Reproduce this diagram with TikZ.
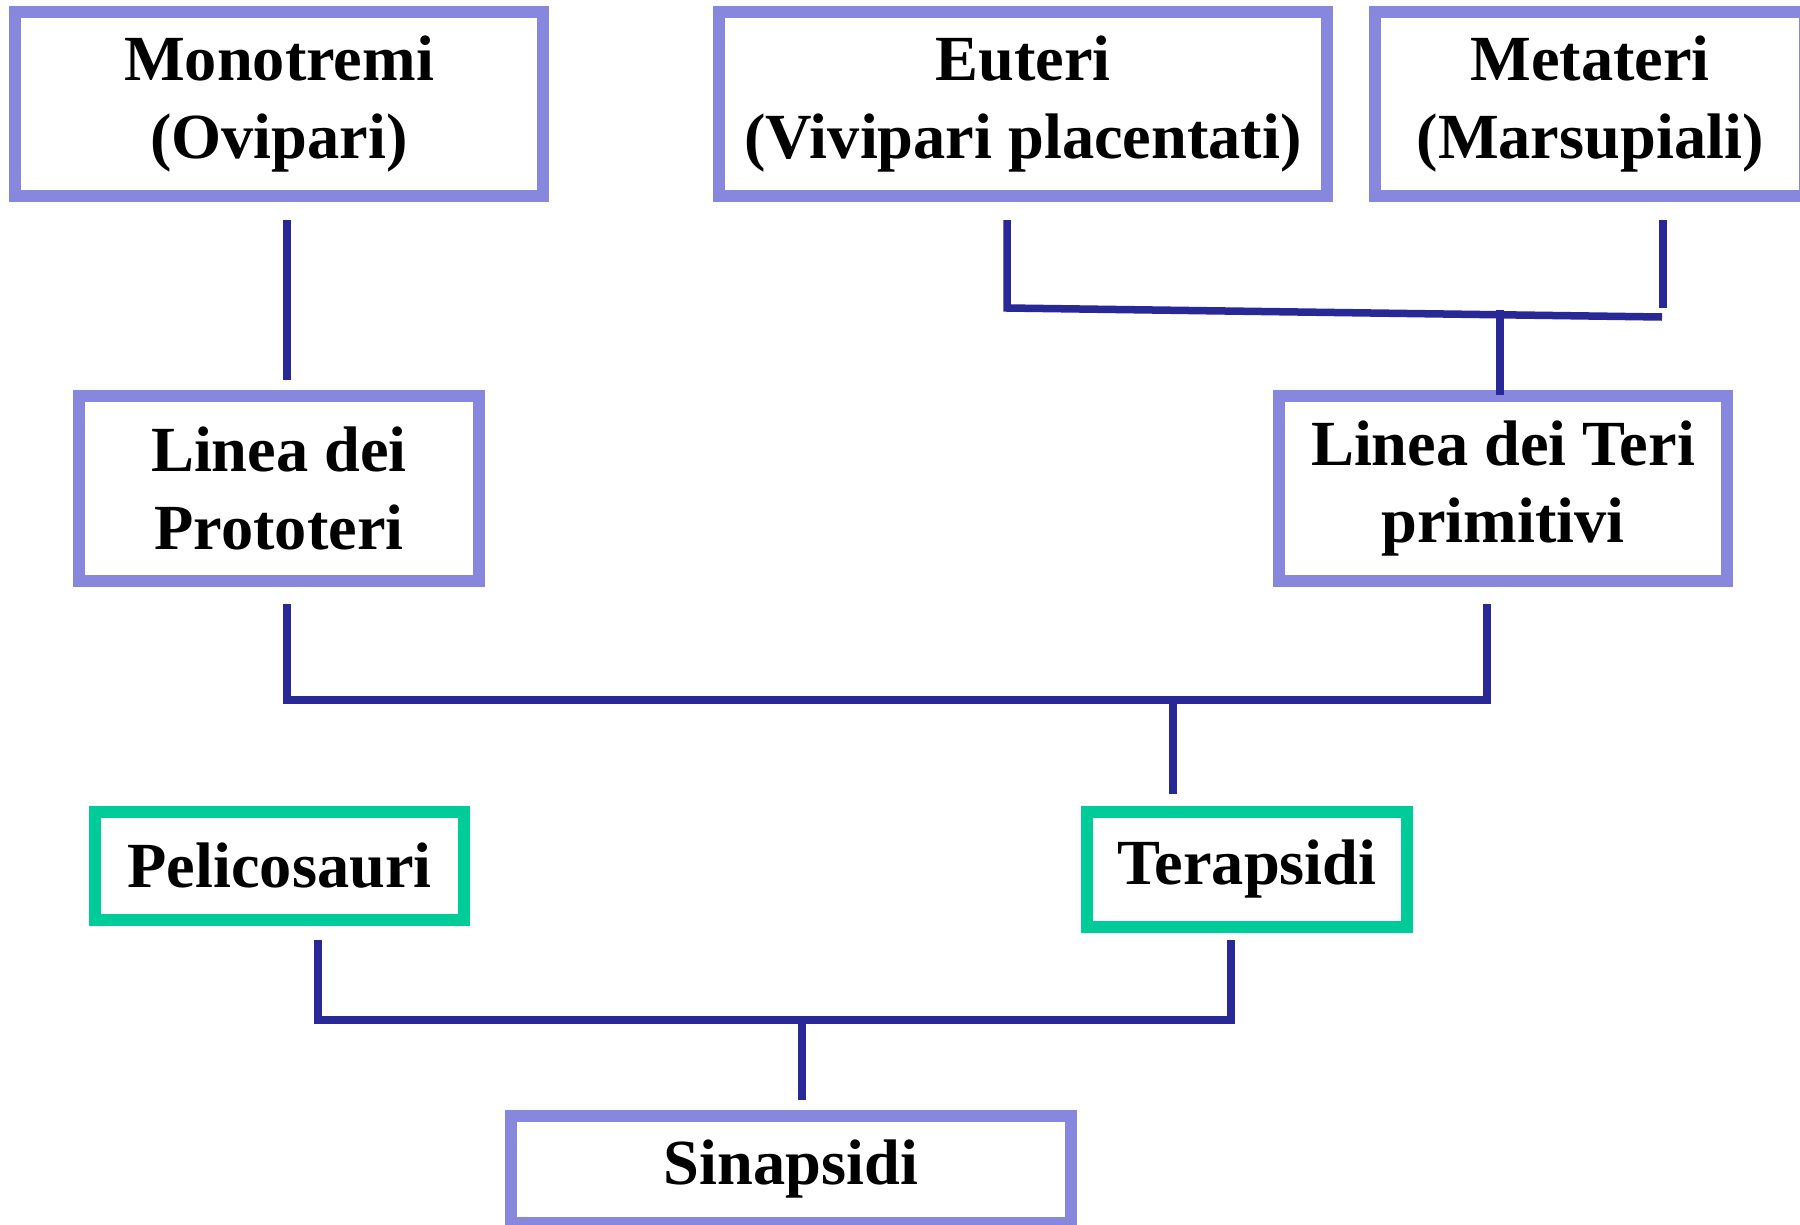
\documentclass[tikz,border=0pt]{standalone}
\usepackage{fontspec}
\setmainfont{Liberation Serif}
\definecolor{boxblue}{HTML}{8787DD}
\definecolor{boxgreen}{HTML}{00CC99}
\definecolor{linkblue}{HTML}{282896}
\tikzset{
  taxon/.style={draw=boxblue,line width=0.12cm,fill=white,align=center,inner sep=0pt,
    font=\bfseries\fontsize{18.3}{22}\selectfont},
  taxong/.style={taxon,draw=boxgreen},
  link/.style={draw=linkblue,line width=0.075cm}
}
\begin{document}
\begin{tikzpicture}[x=0.01cm,y=-0.01cm]
\useasboundingbox[fill=white] (0,0) rectangle (1800,1224);
% top row
\node[taxon,minimum width=5.28cm,minimum height=1.84cm] (mono) at (279,104) {Monotremi\\(Ovipari)};
\node[taxon,minimum width=6.08cm,minimum height=1.84cm] (euteri) at (1023,104) {Euteri\\(Vivipari placentati)};
\node[taxon,minimum width=4.30cm,minimum height=1.84cm] (meta) at (1590,104) {Metateri\\(Marsupiali)};
% second row
\node[taxon,minimum width=4.00cm,minimum height=1.85cm] (proto) at (279,488.5) {Linea dei\\Prototeri};
\node[taxon,minimum width=4.48cm,minimum height=1.85cm] (teri) at (1503,488.5) {Linea dei Teri\\primitivi};
% third row
\node[taxong,minimum width=3.68cm,minimum height=1.08cm] (peli) at (279.5,866) {Pelicosauri};
\node[taxong,minimum width=3.20cm,minimum height=1.15cm] (tera) at (1247,869.5) {Terapsidi};
% root
\node[taxon,minimum width=5.60cm,minimum height=1.07cm] (sina) at (791,1169.5) {Sinapsidi};
% junctions
\coordinate (e1) at (1007,308);
\coordinate (e2) at (1662,317);
\coordinate (m1) at (1663,308);
\coordinate (t1) at (1500,310);
\coordinate (j2) at (1173,700);
\coordinate (j3) at (802,1020);
% connectors
\draw[link,shorten <=0.18cm,shorten >=0.10cm] ([shift={(8,0)}]mono.south) -- ([shift={(8,0)}]proto.north);
\draw[link,shorten <=0.18cm] ([shift={(-16,0)}]euteri.south) -- (e1) -- (e2);
\draw[link,shorten <=0.18cm] ([shift={(73,0)}]meta.south) -- (m1);
\draw[link,shorten >=-0.05cm] (t1) -- (t1 |- teri.north);
\draw[link,shorten <=0.17cm,shorten >=0.17cm] ([shift={(8,0)}]proto.south) |- (j2) -| ([shift={(-16,0)}]teri.south);
\draw[link,shorten >=0.12cm] (j2) -- (j2 |- tera.north);
\draw[link,shorten <=0.14cm,shorten >=0.07cm] ([shift={(38.5,0)}]peli.south) |- (j3) -| ([shift={(-16,0)}]tera.south);
\draw[link,shorten >=0.10cm] (j3) -- (j3 |- sina.north);
\end{tikzpicture}
\end{document}
